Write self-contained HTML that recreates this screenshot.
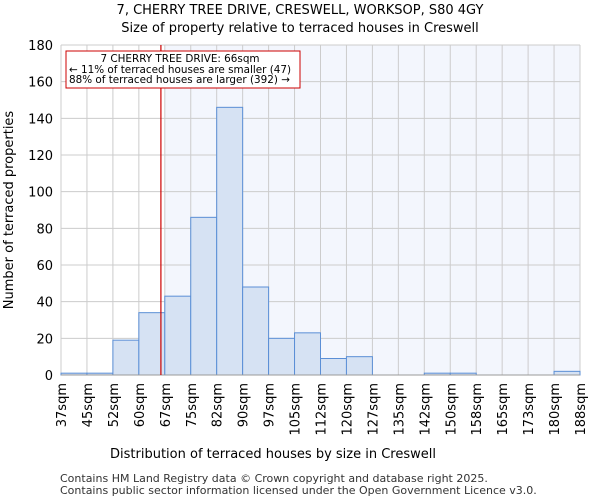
<!DOCTYPE html>
<html><head><meta charset="utf-8"><style>
body{margin:0;background:#fff;font-family:"DejaVu Sans","Liberation Sans",sans-serif;}
svg text{font-family:"DejaVu Sans","Liberation Sans",sans-serif;}
</style></head><body>
<svg id="c" width="600" height="500" xmlns="http://www.w3.org/2000/svg">
<text x="300" y="14" text-anchor="middle" font-size="13">7, CHERRY TREE DRIVE, CRESWELL, WORKSOP, S80 4GY</text>
<text x="300" y="32" text-anchor="middle" font-size="13">Size of property relative to terraced houses in Creswell</text>
<g id="plot"></g>
<text x="273" y="458" text-anchor="middle" font-size="13">Distribution of terraced houses by size in Creswell</text>
<text transform="translate(13,210) rotate(-90)" text-anchor="middle" font-size="13">Number of terraced properties</text>
<text x="60" y="482" font-size="11" fill="#333">Contains HM Land Registry data © Crown copyright and database right 2025.</text>
<text x="60" y="494" font-size="11" fill="#333">Contains public sector information licensed under the Open Government Licence v3.0.</text>
</svg>
<script>
const binLabels=["37sqm","45sqm","52sqm","60sqm","67sqm","75sqm","82sqm","90sqm","97sqm","105sqm","112sqm","120sqm","127sqm","135sqm","142sqm","150sqm","158sqm","165sqm","173sqm","180sqm","188sqm"];
const counts=[1,1,19,34,43,86,146,48,20,23,9,10,0,0,1,1,0,0,0,2];
const yTicks=[0,20,40,60,80,100,120,140,160,180];
const markerBin=3.85;
const NS="http://www.w3.org/2000/svg";
const X0=61,X1=580,Y0=375,Y1=45,YMAX=180;
const bw=(X1-X0)/counts.length;
const xs=i=>X0+i*bw;
const ys=v=>Y0-(v/YMAX)*(Y0-Y1);
const g=document.getElementById('plot');
function mk(t,a){const e=document.createElementNS(NS,t);for(const k in a)e.setAttribute(k,a[k]);g.appendChild(e);return e;}
let shade=mk('rect',{x:xs(4),y:Y1,width:X1-xs(4),height:Y0-Y1,fill:'#f3f6fd'});


yTicks.forEach(t=>{let l=mk('line',{x1:X0,x2:X1,y1:ys(t),y2:ys(t),stroke:'#ccc','stroke-width':1});


let tx=mk('text',{x:X0-8,y:ys(t)+5,'text-anchor':'end','font-size':13});tx.textContent=t;

});
binLabels.forEach((lab,i)=>{let l=mk('line',{x1:xs(i),x2:xs(i),y1:Y1,y2:Y0,stroke:'#ccc','stroke-width':1});


let tx=mk('text',{transform:`translate(${xs(i)+5},${Y0+8}) rotate(-90)`,'text-anchor':'end','font-size':13});tx.textContent=lab;

});
counts.forEach((v,i)=>{let r=mk('rect',{x:xs(i),y:ys(v),width:bw,height:Y0-ys(v),fill:'#d6e2f3',stroke:'#5b8fd6','stroke-width':1});

});
let ax=mk('line',{x1:X0,x2:X1,y1:Y0,y2:Y0,stroke:'#999'});


let rl=mk('line',{x1:xs(markerBin),x2:xs(markerBin),y1:Y1,y2:Y0,stroke:'#cc0000','stroke-width':1.2});


let box=mk('rect',{x:66,y:51,width:234,height:37,fill:'#fff',stroke:'#cc0000','stroke-width':1});


[["7 CHERRY TREE DRIVE: 66sqm",62],["← 11% of terraced houses are smaller (47)",73],["88% of terraced houses are larger (392) →",83]].forEach((a,i)=>{
let t=mk('text',{x:i==0?180:69,y:a[1],'text-anchor':i==0?'middle':'start','font-size':10.4});t.textContent=a[0];

});
</script>
</body></html>
